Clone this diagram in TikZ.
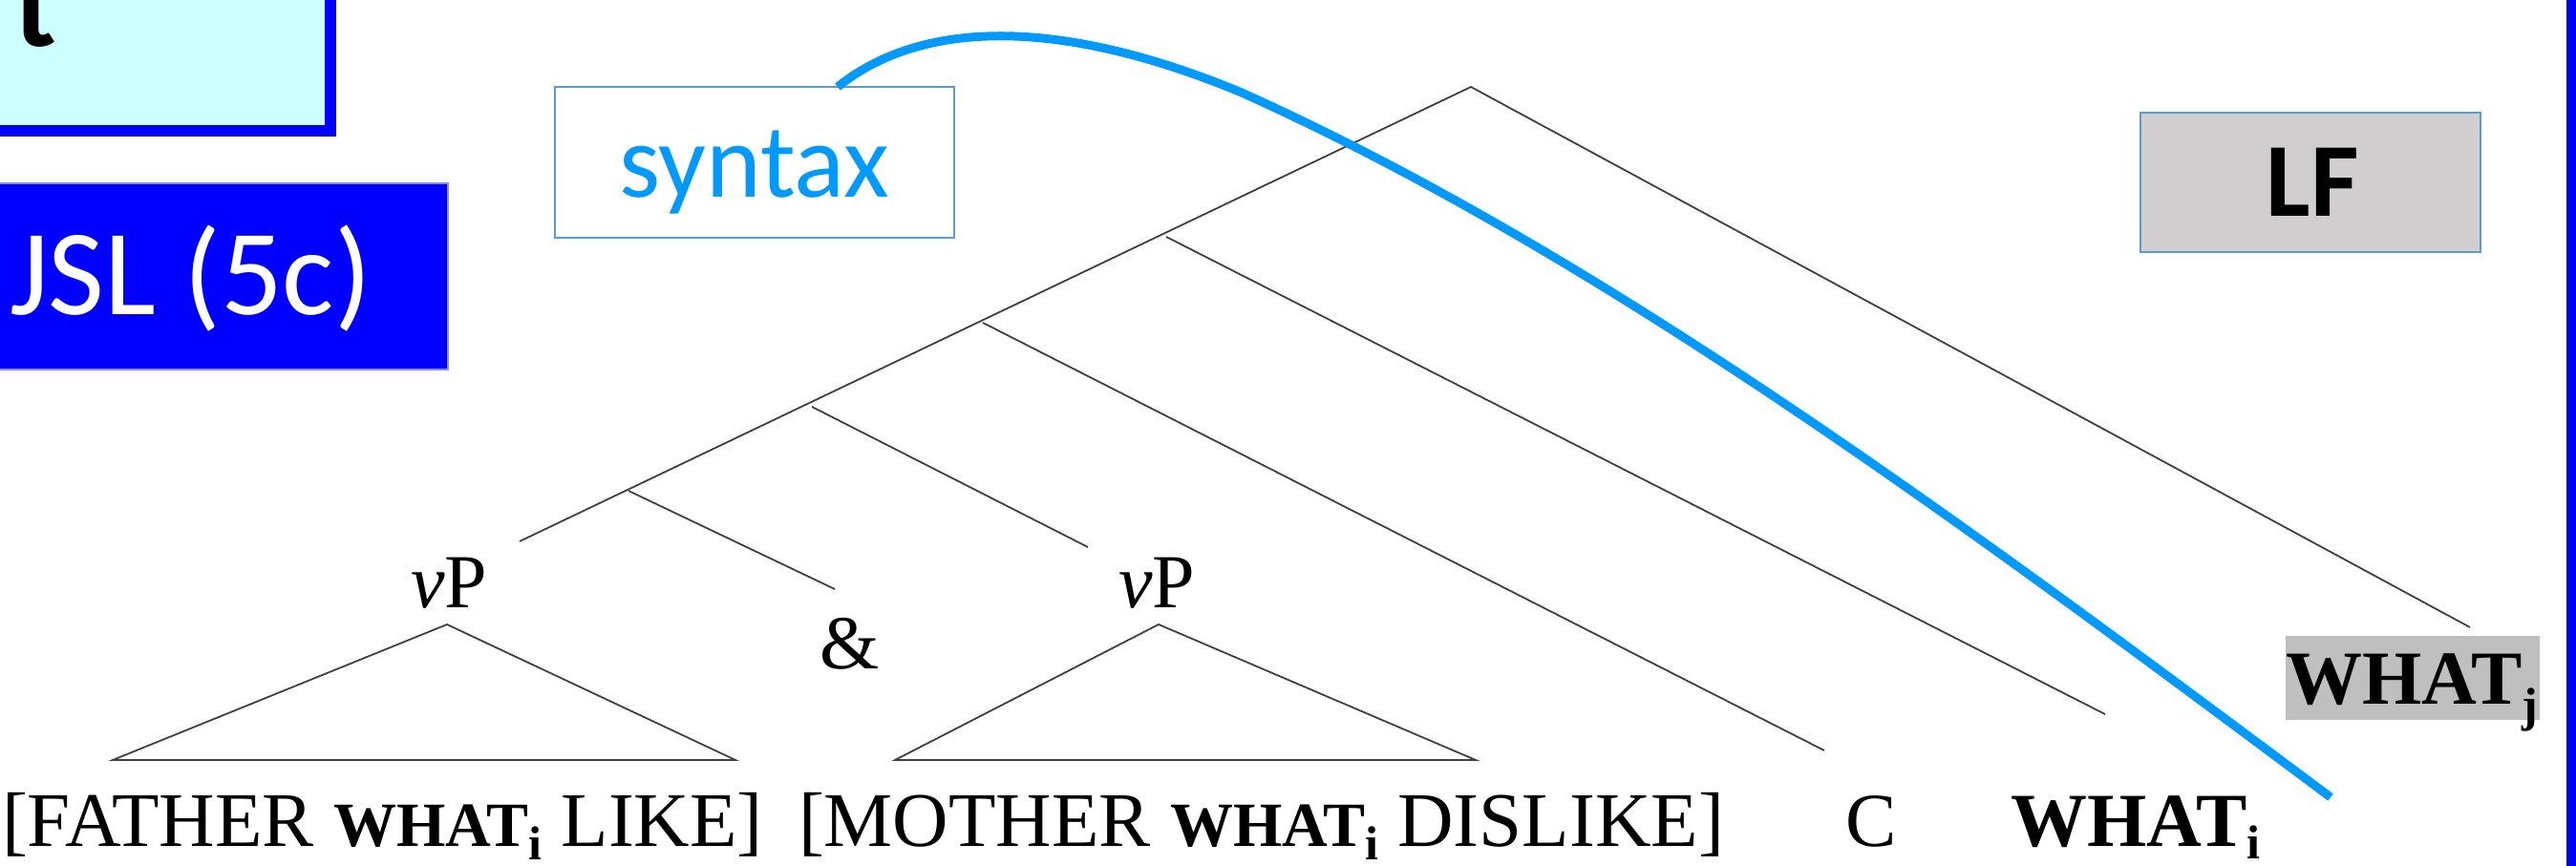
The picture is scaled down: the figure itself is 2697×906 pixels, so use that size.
\documentclass[tikz,border=0pt]{standalone}
\usepackage{fontspec}
\setmainfont{Liberation Serif}
\newfontfamily\calfont{Carlito}
\definecolor{cyanfill}{RGB}{204,255,255}
\definecolor{boxblue}{RGB}{0,0,255}
\definecolor{skyblue}{RGB}{0,153,255}
\definecolor{frameblue}{RGB}{91,155,213}
\definecolor{paleblue}{RGB}{140,140,255}
\definecolor{lfgray}{RGB}{208,206,206}
\definecolor{hlgray}{RGB}{191,191,191}
\definecolor{treegray}{RGB}{64,64,64}
\newcommand{\sz}[1]{\fontsize{#1}{#1}\selectfont}
\newcommand{\subidx}[2]{\raisebox{-#1pt}{\sz{50}\bfseries #2}}
\begin{document}
\begin{tikzpicture}[x=1pt,y=-1pt,
  txt/.style={inner sep=0pt, outer sep=0pt},
  serif/.style={txt, font=\sz{80}},
  sans/.style={txt, font=\calfont\sz{110}},
  tree/.style={draw=treegray, line width=1.8pt},
  framebox/.style={draw=frameblue, line width=2.5pt, inner sep=0pt, outer sep=0pt},
  link/.style={draw=skyblue, line width=9pt}]
\useasboundingbox (0,0) rectangle (2697,906);

% top-left boxes
\node[draw=boxblue, line width=12pt, fill=cyanfill, inner sep=0pt, outer sep=0pt,
      minimum width=385.5pt, minimum height=177pt] (topbox) at (152.75,48.5) {};
\node[txt, anchor=base west, font=\calfont\bfseries\sz{126}] (tlbl) at (15,48) {t};
\node[draw=paleblue, line width=1.5pt, fill=boxblue, inner sep=0pt, outer sep=0pt,
      minimum width=489pt, minimum height=195pt] (jsl) at (224.5,289.5) {};
\node[txt, anchor=base west, font=\calfont\sz{128}, text=white] (jsllbl) at (10,329) {JSL (5c)};

% right bar
\fill[boxblue] (2687,-5) rectangle (2705,911);

% syntax and LF boxes
\node[framebox, fill=white, minimum width=418pt, minimum height=158pt] (syn) at (790,170) {};
\node[sans, anchor=base, text=skyblue] (synlbl) at (790,206) {syntax};
\node[framebox, fill=lfgray, minimum width=356pt, minimum height=146pt] (lf) at (2419,191) {};
\node[sans, anchor=base, font=\calfont\bfseries\sz{110}] (lflbl) at (2421,226) {LF};

% WHAT_j highlight
\node[fill=hlgray, inner sep=0pt, outer sep=0pt, minimum width=266pt, minimum height=88pt] (hl) at (2526,710) {};
\node[serif, anchor=base west] (whatj) at (2393,737) {\bfseries WHAT\subidx{18}{j}};

% tree coordinates
\coordinate (R) at (1540,91);
\coordinate (LE) at (544,567);
\coordinate (RE) at (2586,657);
\coordinate (b1s) at (1221,248);
\coordinate (b1e) at (2204,748);
\coordinate (b2s) at (1029,338);
\coordinate (b2e) at (1910,786);
\coordinate (b3s) at (850,426);
\coordinate (b3e) at (1139,573);
\coordinate (b4s) at (658,514);
\coordinate (b4e) at (874,617);
\coordinate (t1a) at (468,654);
\coordinate (t1l) at (118,796);
\coordinate (t1r) at (770,796);
\coordinate (t2a) at (1213,654);
\coordinate (t2l) at (937,796);
\coordinate (t2r) at (1545,796);

\draw[tree] (LE) -- (R) -- (RE);
\draw[tree] (b1s) -- (b1e);
\draw[tree] (b2s) -- (b2e);
\draw[tree] (b3s) -- (b3e);
\draw[tree] (b4s) -- (b4e);
\draw[tree] (t1l) -- (t1a) -- (t1r) -- cycle;
\draw[tree] (t2l) -- (t2a) -- (t2r) -- cycle;

% labels
\node[serif, anchor=base] (vp1) at (470,636) {\textit{v}P};
\node[serif, anchor=base] (vp2) at (1211,636) {\textit{v}P};
\node[serif, anchor=base] (amp) at (890,700) {\&};
\node[serif, anchor=base west, font=\sz{81}] (fath) at (2,886) {[FATHER {\sz{66}\bfseries WHAT}\subidx{14}{i} LIKE]};
\node[serif, anchor=base west, font=\sz{81}] (moth) at (836,886) {[MOTHER {\sz{66}\bfseries WHAT}\subidx{14}{i} DISLIKE]};
\node[serif, anchor=base west] (cc) at (1932,886) {C};
\node[serif, anchor=base west] (whati) at (2105,886) {\bfseries WHAT\subidx{13}{i}};

% blue curve
\coordinate (cend) at (2440,835);
\draw[link] ([xshift=87pt]syn.north) .. controls (965,20) and (1110,18) .. (1300,97)
  .. controls (1680,268) and (2062,553) .. (cend);
\end{tikzpicture}
\end{document}
